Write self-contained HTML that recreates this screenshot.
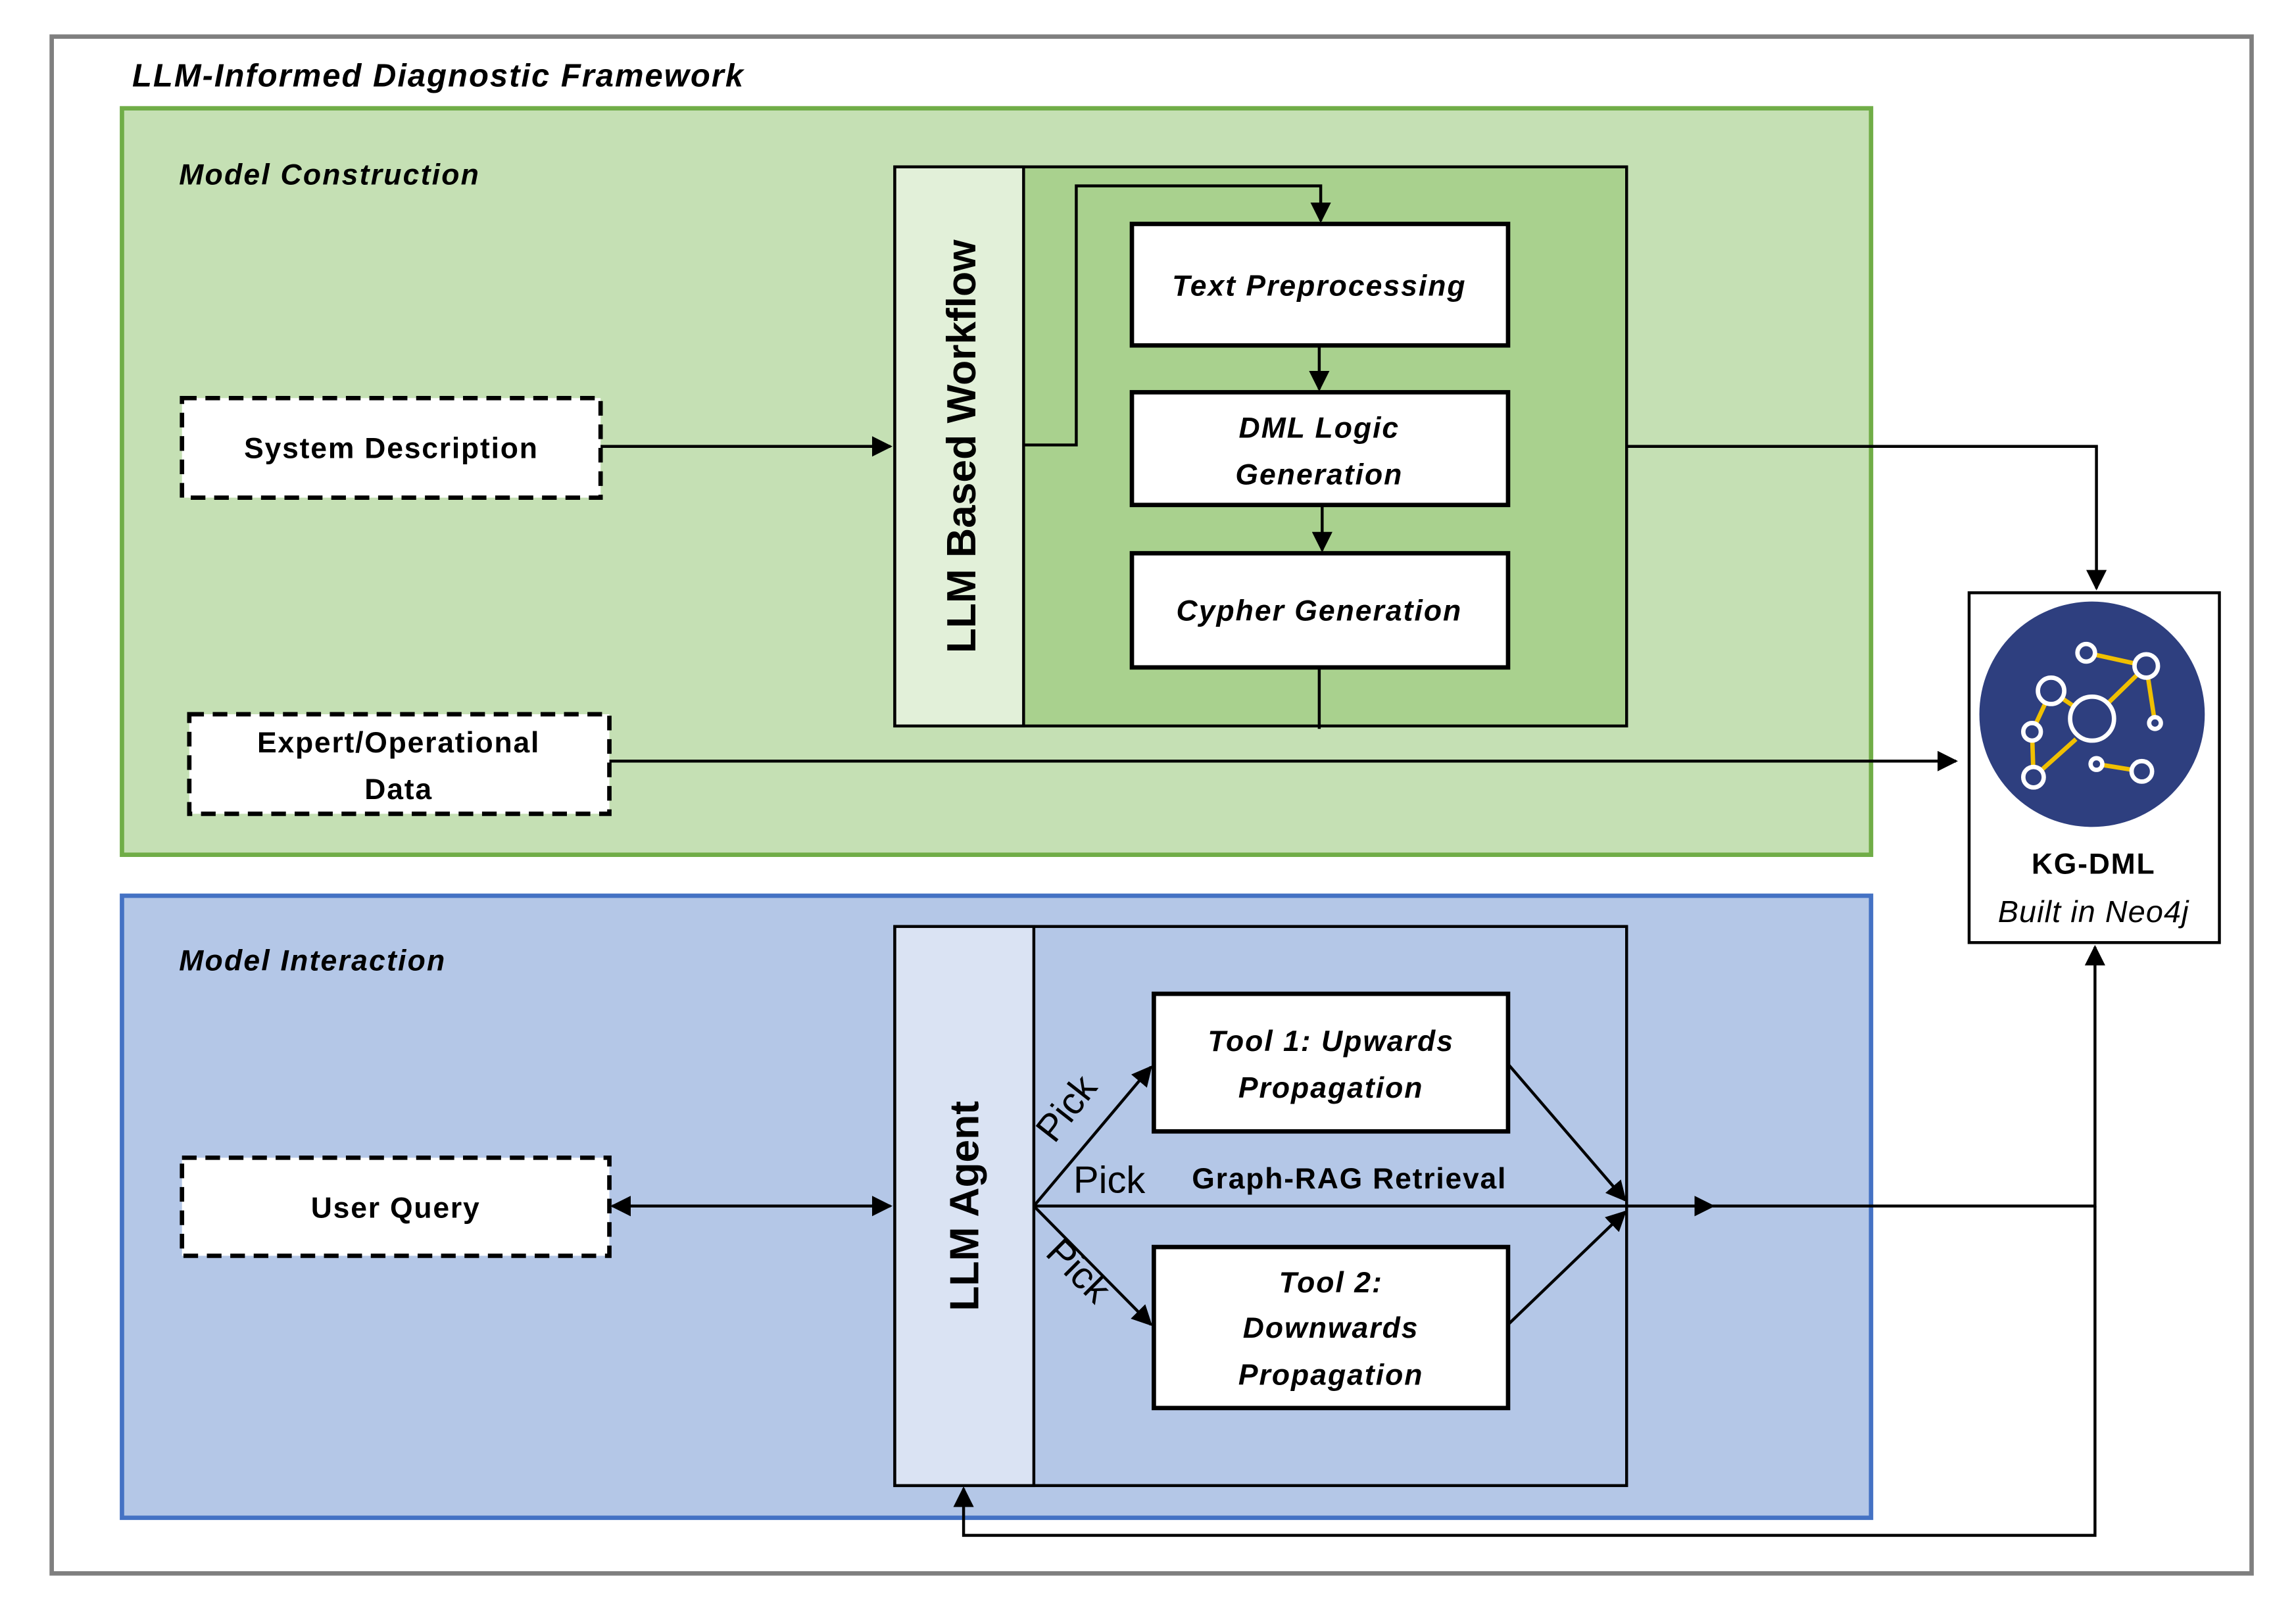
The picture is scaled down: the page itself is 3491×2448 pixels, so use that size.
<!DOCTYPE html>
<html><head><meta charset="utf-8"><style>
html,body{margin:0;padding:0;background:#fff;}
svg{display:block;}
text{font-family:"Liberation Sans","DejaVu Sans",sans-serif;fill:#000;}
.bi{font-weight:bold;font-style:italic;font-size:20px;letter-spacing:0.9px;}
.b{font-weight:bold;font-size:20px;letter-spacing:0.8px;}
</style></head><body>
<svg width="3491" height="2448" viewBox="0 0 1568 1100" xmlns="http://www.w3.org/2000/svg">
<defs>
<marker id="a" viewBox="0 0 10 10" refX="9" refY="5" markerWidth="7" markerHeight="7" orient="auto-start-reverse"><path d="M0,0 L10,5 L0,10 z" fill="#000"/></marker>
</defs>
<rect width="1568" height="1100" fill="#fff"/>
<rect x="35" y="25" width="1503" height="1050" fill="#fff" stroke="#7f7f7f" stroke-width="3"/>
<text x="90" y="59" class="bi" style="font-size:22px">LLM-Informed Diagnostic Framework</text>

<!-- Green -->
<rect x="83" y="74" width="1195" height="510" fill="#c5e0b4" stroke="#70ad47" stroke-width="3"/>
<text x="122" y="126" class="bi" style="letter-spacing:1px">Model Construction</text>
<rect x="611" y="114" width="500" height="382" fill="#a9d18e" stroke="#000" stroke-width="2"/>
<rect x="611" y="114" width="88" height="382" fill="#e2f0d9" stroke="#000" stroke-width="2"/>
<text transform="translate(666,305) rotate(-90)" text-anchor="middle" font-size="28" font-weight="bold">LLM Based Workflow</text>
<rect x="773" y="153" width="257" height="83" fill="#fff" stroke="#000" stroke-width="3"/>
<text x="901" y="202" text-anchor="middle" class="bi">Text Preprocessing</text>
<rect x="773" y="268" width="257" height="77" fill="#fff" stroke="#000" stroke-width="3"/>
<text x="901" y="299" text-anchor="middle" class="bi">DML Logic</text>
<text x="901" y="331" text-anchor="middle" class="bi">Generation</text>
<rect x="773" y="378" width="257" height="78" fill="#fff" stroke="#000" stroke-width="3"/>
<text x="901" y="424" text-anchor="middle" class="bi">Cypher Generation</text>

<rect x="124" y="272" width="286" height="68" fill="#fff" stroke="#000" stroke-width="3" stroke-dasharray="10,6"/>
<text x="267" y="313" text-anchor="middle" class="b">System Description</text>
<rect x="129" y="488" width="287" height="68" fill="#fff" stroke="#000" stroke-width="3" stroke-dasharray="10,6"/>
<text x="272" y="514" text-anchor="middle" class="b">Expert/Operational</text>
<text x="272" y="546" text-anchor="middle" class="b">Data</text>

<g stroke="#000" stroke-width="2" fill="none">
<line x1="410" y1="305" x2="608" y2="305" marker-end="url(#a)"/>
<polyline points="699,304 735,304 735,127 902,127 902,151" marker-end="url(#a)"/>
<line x1="901" y1="236" x2="901" y2="266" marker-end="url(#a)"/>
<line x1="903" y1="345" x2="903" y2="376" marker-end="url(#a)"/>
<line x1="901" y1="456" x2="901" y2="498"/>
<polyline points="1111,305 1432,305 1432,402" marker-end="url(#a)"/>
<line x1="416" y1="520" x2="1336" y2="520" marker-end="url(#a)"/>
</g>

<!-- KG -->
<rect x="1345" y="405" width="171" height="239" fill="#fff" stroke="#000" stroke-width="2"/>
<circle cx="1429" cy="488" r="77" fill="#2e3f7f"/>
<g stroke="#f0c000" stroke-width="3" fill="none">
<line x1="1401" y1="472" x2="1429" y2="491"/><line x1="1429" y1="491" x2="1466" y2="455"/>
<line x1="1388" y1="500" x2="1389" y2="531"/><line x1="1389" y1="531" x2="1418" y2="505"/>
<line x1="1425" y1="446" x2="1466" y2="455"/><line x1="1466" y1="455" x2="1472" y2="494"/>
<line x1="1432" y1="522" x2="1463" y2="527"/><line x1="1401" y1="472" x2="1388" y2="500"/>
</g>
<g stroke="#fff" stroke-width="3" fill="#2e3f7f">
<circle cx="1429" cy="491" r="15"/><circle cx="1401" cy="472" r="9"/><circle cx="1425" cy="446" r="6"/>
<circle cx="1466" cy="455" r="8"/><circle cx="1472" cy="494" r="4"/><circle cx="1388" cy="500" r="6"/>
<circle cx="1389" cy="531" r="7"/><circle cx="1432" cy="522" r="4"/><circle cx="1463" cy="527" r="7"/>
</g>
<text x="1430" y="597" text-anchor="middle" class="b">KG-DML</text>
<text x="1430" y="630" text-anchor="middle" font-size="21" font-style="italic" letter-spacing="0.5">Built in Neo4j</text>

<!-- Blue -->
<rect x="83" y="612" width="1195" height="425" fill="#b4c7e7" stroke="#4472c4" stroke-width="3"/>
<text x="122" y="663" class="bi" style="letter-spacing:1px">Model Interaction</text>
<rect x="611" y="633" width="500" height="382" fill="#b4c7e7" stroke="#000" stroke-width="2"/>
<rect x="611" y="633" width="95" height="382" fill="#dae3f3" stroke="#000" stroke-width="2"/>
<text transform="translate(668,824) rotate(-90)" text-anchor="middle" font-size="28" font-weight="bold">LLM Agent</text>
<rect x="788" y="679" width="242" height="94" fill="#fff" stroke="#000" stroke-width="3"/>
<text x="909" y="718" text-anchor="middle" class="bi">Tool 1: Upwards</text>
<text x="909" y="750" text-anchor="middle" class="bi">Propagation</text>
<rect x="788" y="852" width="242" height="110" fill="#fff" stroke="#000" stroke-width="3"/>
<text x="909" y="883" text-anchor="middle" class="bi">Tool 2:</text>
<text x="909" y="914" text-anchor="middle" class="bi">Downwards</text>
<text x="909" y="946" text-anchor="middle" class="bi">Propagation</text>
<rect x="124" y="791" width="292" height="67" fill="#fff" stroke="#000" stroke-width="3" stroke-dasharray="10,6"/>
<text x="270" y="832" text-anchor="middle" class="b">User Query</text>

<text x="733" y="815" font-size="26">Pick</text>
<text x="814" y="812" class="b">Graph-RAG Retrieval</text>
<text transform="translate(720,782) rotate(-52)" font-size="26">Pick</text>
<text transform="translate(713,857) rotate(45)" font-size="26">Pick</text>

<g stroke="#000" stroke-width="2" fill="none">
<line x1="418" y1="824" x2="608" y2="824" marker-start="url(#a)" marker-end="url(#a)"/>
<line x1="706" y1="824" x2="786" y2="729" marker-end="url(#a)"/>
<line x1="706" y1="824" x2="786" y2="905" marker-end="url(#a)"/>
<line x1="1030" y1="727" x2="1110" y2="820" marker-end="url(#a)"/>
<line x1="1030" y1="905" x2="1110" y2="828" marker-end="url(#a)"/>
<line x1="706" y1="824" x2="1170" y2="824" marker-end="url(#a)"/>
<polyline points="1170,824 1431,824 1431,647" marker-end="url(#a)"/>
<polyline points="1431,824 1431,1049 658,1049 658,1017" marker-end="url(#a)"/>
</g>
</svg>
</body></html>
